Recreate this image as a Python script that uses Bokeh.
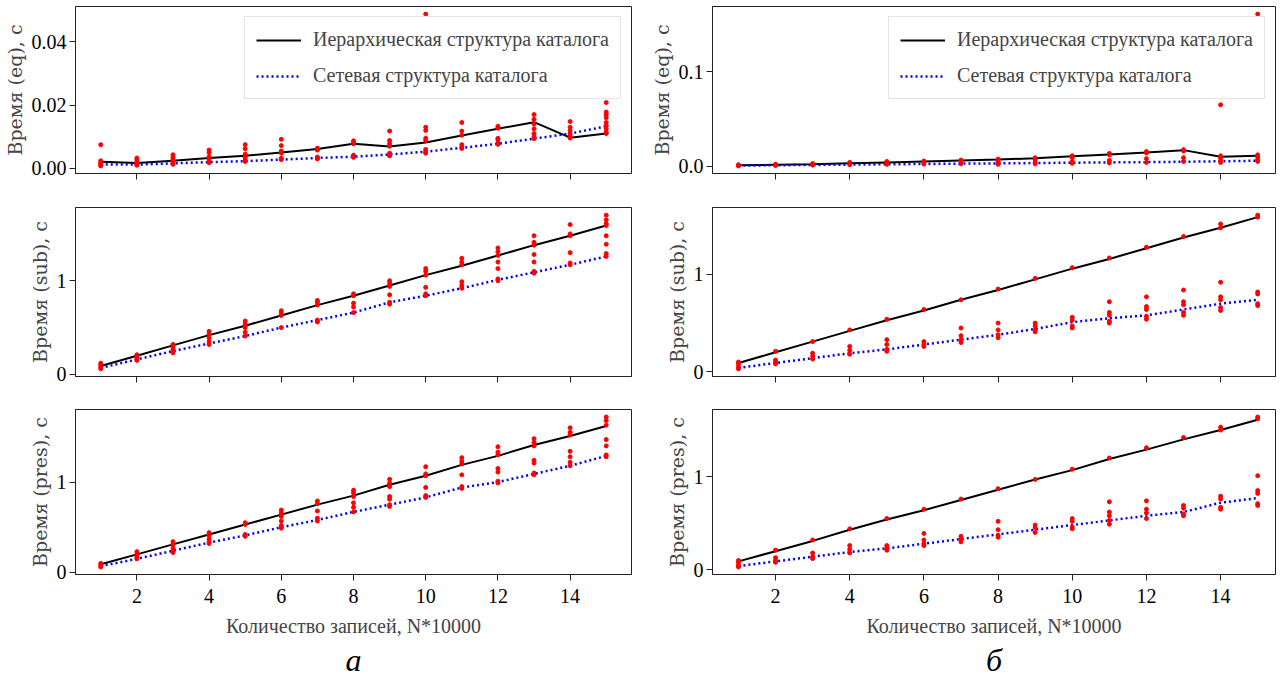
from bokeh.plotting import figure
from bokeh.layouts import column, row
from bokeh.models import (Range1d, Legend, LegendItem, Title, FixedTicker,
                          PrintfTickFormatter, CustomJSTickFormatter)
from bokeh.embed import file_html
from bokeh.resources import INLINE

# ---------------- data ----------------
n_records = list(range(1, 16))  # N*10000
x_ticks = [2, 4, 6, 8, 10, 12, 14]

legend_hier = "Иерархическая структура каталога"
legend_net = "Сетевая структура каталога"
x_label = "Количество записей, N*10000"
panel_a = "а"
panel_b = "б"

# (eq) – panel а
eq_a_hier = [0.0021, 0.0017, 0.0024, 0.0033, 0.0040, 0.0050, 0.0061, 0.0078, 0.0069, 0.0082, 0.0104, 0.0125, 0.0146, 0.0097, 0.0110]
eq_a_net = [0.0013, 0.0012, 0.0016, 0.0020, 0.0023, 0.0028, 0.0033, 0.0037, 0.0044, 0.0053, 0.0065, 0.0078, 0.0094, 0.0110, 0.0133]
eq_a_meas = [
    [0.0075, 0.0024, 0.0019, 0.0015, 0.0011, 0.0008],
    [0.0033, 0.0027, 0.0020, 0.0015, 0.0012, 0.0010],
    [0.0043, 0.0035, 0.0028, 0.0022, 0.0016, 0.0013],
    [0.0058, 0.0050, 0.0037, 0.0030, 0.0022, 0.0018],
    [0.0075, 0.0062, 0.0045, 0.0035, 0.0026, 0.0022],
    [0.0092, 0.0072, 0.0055, 0.0048, 0.0032, 0.0028],
    [0.0064, 0.0060, 0.0058, 0.0036, 0.0032, 0.0030],
    [0.0087, 0.0082, 0.0078, 0.0042, 0.0038, 0.0035],
    [0.0118, 0.0088, 0.0078, 0.0070, 0.0048, 0.0043, 0.0040],
    [0.0487, 0.0130, 0.0120, 0.0095, 0.0088, 0.0060, 0.0053, 0.0048],
    [0.0145, 0.0118, 0.0105, 0.0075, 0.0068, 0.0063],
    [0.0133, 0.0127, 0.0095, 0.0090, 0.0080, 0.0076],
    [0.0170, 0.0155, 0.0140, 0.0125, 0.0110, 0.0100, 0.0094],
    [0.0148, 0.0130, 0.0120, 0.0110, 0.0102, 0.0096],
    [0.0208, 0.0178, 0.0170, 0.0160, 0.0145, 0.0135, 0.0125, 0.0115, 0.0110],
]

# (eq) – panel б
eq_b_hier = [0.0010, 0.0015, 0.0020, 0.0030, 0.0040, 0.0050, 0.0060, 0.0070, 0.0085, 0.0105, 0.0125, 0.0145, 0.0170, 0.0100, 0.0110]
eq_b_net = [0.0006, 0.0010, 0.0013, 0.0017, 0.0020, 0.0023, 0.0027, 0.0030, 0.0033, 0.0037, 0.0040, 0.0043, 0.0047, 0.0052, 0.0058]
eq_b_meas = [
    [0.0015, 0.0008, 0.0003],
    [0.0020, 0.0012, 0.0008],
    [0.0028, 0.0018, 0.0011],
    [0.0040, 0.0030, 0.0016],
    [0.0050, 0.0035, 0.0020],
    [0.0055, 0.0040, 0.0022],
    [0.0065, 0.0050, 0.0025],
    [0.0075, 0.0050, 0.0030, 0.0020],
    [0.0090, 0.0070, 0.0040, 0.0025],
    [0.0110, 0.0090, 0.0050, 0.0030],
    [0.0135, 0.0120, 0.0060, 0.0035],
    [0.0155, 0.0140, 0.0080, 0.0040],
    [0.0175, 0.0160, 0.0090, 0.0050],
    [0.0650, 0.0110, 0.0090, 0.0060, 0.0040],
    [0.1610, 0.0120, 0.0100, 0.0070, 0.0050],
]

# (sub) – panel а
sub_a_hier = [0.09, 0.20, 0.31, 0.42, 0.52, 0.63, 0.74, 0.84, 0.95, 1.06, 1.16, 1.27, 1.38, 1.48, 1.59]
sub_a_net = [0.07, 0.16, 0.25, 0.33, 0.41, 0.50, 0.58, 0.66, 0.77, 0.84, 0.92, 1.01, 1.09, 1.17, 1.26]
sub_a_meas = [
    [0.12, 0.10, 0.08, 0.06],
    [0.21, 0.19, 0.17, 0.15],
    [0.32, 0.29, 0.26, 0.23],
    [0.46, 0.43, 0.39, 0.35, 0.32],
    [0.57, 0.54, 0.50, 0.45, 0.41],
    [0.68, 0.65, 0.63, 0.50],
    [0.79, 0.77, 0.74, 0.58, 0.56],
    [0.86, 0.84, 0.76, 0.72, 0.66],
    [1.00, 0.97, 0.94, 0.85, 0.77, 0.75],
    [1.13, 1.10, 1.06, 0.93, 0.86, 0.84],
    [1.24, 1.20, 1.17, 0.99, 0.95, 0.92],
    [1.35, 1.31, 1.27, 1.20, 1.13, 1.02, 1.00],
    [1.48, 1.41, 1.38, 1.28, 1.20, 1.10, 1.08],
    [1.60, 1.50, 1.48, 1.30, 1.19, 1.17],
    [1.70, 1.65, 1.61, 1.59, 1.48, 1.39, 1.29, 1.26],
]

# (sub) – panel б
sub_b_hier = [0.09, 0.20, 0.31, 0.42, 0.53, 0.63, 0.74, 0.84, 0.95, 1.06, 1.16, 1.27, 1.38, 1.48, 1.59]
sub_b_net = [0.04, 0.09, 0.14, 0.19, 0.23, 0.28, 0.33, 0.38, 0.44, 0.51, 0.55, 0.58, 0.64, 0.70, 0.74]
sub_b_meas = [
    [0.10, 0.08, 0.05, 0.03],
    [0.21, 0.12, 0.10, 0.08],
    [0.31, 0.19, 0.16, 0.13],
    [0.43, 0.26, 0.22, 0.18],
    [0.54, 0.33, 0.28, 0.23, 0.21],
    [0.64, 0.31, 0.28, 0.26],
    [0.74, 0.45, 0.37, 0.33, 0.30],
    [0.85, 0.50, 0.43, 0.38, 0.35],
    [0.96, 0.50, 0.47, 0.43, 0.41],
    [1.07, 0.56, 0.53, 0.47, 0.45],
    [1.17, 0.72, 0.61, 0.58, 0.52, 0.50],
    [1.28, 0.77, 0.67, 0.64, 0.57, 0.54],
    [1.39, 0.84, 0.72, 0.69, 0.61, 0.58],
    [1.52, 1.48, 0.92, 0.77, 0.74, 0.66, 0.63],
    [1.61, 1.59, 0.82, 0.80, 0.70, 0.68],
]

# (pres) – panel а
pres_a_hier = [0.09, 0.20, 0.31, 0.42, 0.53, 0.64, 0.75, 0.85, 0.97, 1.07, 1.19, 1.29, 1.41, 1.51, 1.62]
pres_a_net = [0.07, 0.15, 0.24, 0.33, 0.41, 0.50, 0.58, 0.67, 0.75, 0.83, 0.94, 1.00, 1.09, 1.18, 1.29]
pres_a_meas = [
    [0.10, 0.08, 0.06],
    [0.23, 0.20, 0.17, 0.15],
    [0.34, 0.31, 0.27, 0.24, 0.22],
    [0.44, 0.41, 0.37, 0.34, 0.32],
    [0.55, 0.53, 0.42, 0.40],
    [0.69, 0.66, 0.62, 0.57, 0.52, 0.49],
    [0.79, 0.76, 0.68, 0.60, 0.57],
    [0.91, 0.88, 0.84, 0.77, 0.72, 0.67],
    [1.03, 0.99, 0.95, 0.84, 0.81, 0.75, 0.73],
    [1.17, 1.09, 1.07, 0.94, 0.85, 0.83],
    [1.27, 1.23, 1.20, 1.08, 0.95, 0.93],
    [1.39, 1.33, 1.30, 1.15, 1.11, 1.01, 0.99],
    [1.48, 1.44, 1.40, 1.24, 1.21, 1.10, 1.08],
    [1.60, 1.55, 1.52, 1.34, 1.28, 1.22, 1.18],
    [1.72, 1.68, 1.63, 1.47, 1.40, 1.30, 1.28],
]

# (pres) – panel б
pres_b_hier = [0.09, 0.20, 0.31, 0.43, 0.54, 0.64, 0.75, 0.86, 0.97, 1.07, 1.19, 1.29, 1.40, 1.50, 1.61]
pres_b_net = [0.04, 0.09, 0.14, 0.19, 0.23, 0.28, 0.33, 0.38, 0.43, 0.48, 0.53, 0.58, 0.62, 0.72, 0.77]
pres_b_meas = [
    [0.10, 0.08, 0.05, 0.03],
    [0.21, 0.13, 0.10, 0.08],
    [0.32, 0.18, 0.14, 0.12],
    [0.44, 0.26, 0.22, 0.18],
    [0.55, 0.26, 0.23, 0.21],
    [0.65, 0.39, 0.32, 0.28, 0.26],
    [0.76, 0.36, 0.33, 0.30],
    [0.87, 0.52, 0.43, 0.37, 0.35],
    [0.97, 0.48, 0.45, 0.40],
    [1.08, 0.55, 0.52, 0.46, 0.44],
    [1.20, 0.73, 0.62, 0.58, 0.53, 0.49],
    [1.31, 0.74, 0.65, 0.61, 0.55],
    [1.42, 0.69, 0.66, 0.60, 0.58],
    [1.53, 1.50, 0.79, 0.76, 0.67, 0.65],
    [1.64, 1.62, 1.01, 0.85, 0.82, 0.71, 0.69],
]

# ---------------- styling ----------------
TICK_FONT = "Liberation Serif"
YLAB_FONT = "DejaVu Serif"


def padded_range(*series):
    vals = []
    for s in series:
        for v in s:
            if isinstance(v, list):
                vals.extend(v)
            else:
                vals.append(v)
    lo, hi = min(vals), max(vals)
    pad = (hi - lo) * 0.05
    return Range1d(lo - pad, hi + pad)


def panel(hier, net, meas, ylabel, yticks, yfmt, col, rowi):
    if col == 0:
        width, mbl, mbr = 637, 69, 6
        xr = Range1d(0.3, 15.7)
    else:
        width, mbl, mbr = 639, 75, 1
        xr = Range1d(0.3, 15.48)
    if rowi == 0:
        height, mbt, mbb = 190, 6, 17
    elif rowi == 1:
        height, mbt, mbb = 202, 17, 16
    else:
        height, mbt, mbb = 285, 17, 99

    p = figure(width=width, height=height, x_range=xr,
               y_range=padded_range(hier, net, meas),
               output_backend="svg", toolbar_location=None,
               min_border_left=mbl, min_border_right=mbr,
               min_border_top=mbt, min_border_bottom=mbb)
    p.grid.visible = False
    p.outline_line_color = "#222222"
    p.outline_line_width = 1
    p.background_fill_color = "white"
    p.border_fill_color = "white"

    for ax in (p.xaxis[0], p.yaxis[0]):
        ax.axis_line_color = "#222222"
        ax.major_tick_line_color = "#222222"
        ax.major_tick_out = 6
        ax.major_tick_in = 0
        ax.minor_tick_line_color = None
        ax.major_label_text_font = TICK_FONT
        ax.major_label_text_font_size = "20px"
        ax.major_label_text_color = "black"

    p.xaxis.ticker = FixedTicker(ticks=x_ticks)
    p.xaxis.major_label_standoff = 8
    if rowi < 2:
        p.xaxis.formatter = CustomJSTickFormatter(code="return ''")
        p.xaxis.major_label_standoff = 0
    else:
        p.xaxis.axis_label = x_label
        p.xaxis.axis_label_text_font = TICK_FONT
        p.xaxis.axis_label_text_font_size = "20px"
        p.xaxis.axis_label_text_font_style = "normal"
        p.xaxis.axis_label_standoff = 9

    p.yaxis.ticker = FixedTicker(ticks=yticks)
    p.yaxis.formatter = PrintfTickFormatter(format=yfmt)
    p.yaxis.major_label_standoff = 3
    p.yaxis.axis_label = ylabel
    p.yaxis.axis_label_text_font = YLAB_FONT
    p.yaxis.axis_label_text_font_size = "19px"
    p.yaxis.axis_label_text_font_style = "normal"
    p.yaxis.axis_label_standoff = 3

    r_h = p.line(n_records, hier, line_color="black", line_width=2)
    r_n = p.line(n_records, net, line_color="#0000ff", line_width=2.5, line_dash="2 3")

    xs, ys = [], []
    for xv, vals in zip(n_records, meas):
        for v in vals:
            xs.append(xv)
            ys.append(v)
    p.scatter(xs, ys, size=4, fill_color="#ff0000", line_color="#ff0000")

    if rowi == 0:
        leg = Legend(items=[LegendItem(label=legend_hier, renderers=[r_h]),
                            LegendItem(label=legend_net, renderers=[r_n])],
                     location="top_right")
        leg.label_text_font = TICK_FONT
        leg.label_text_font_size = "20px"
        leg.glyph_width = 45
        leg.glyph_height = 22
        leg.label_standoff = 12
        leg.padding = 11
        leg.spacing = 13
        leg.margin = 10
        leg.border_line_color = "#cccccc"
        leg.border_line_width = 1
        leg.background_fill_alpha = 0.85
        p.add_layout(leg)

    if rowi == 2:
        t = Title(text=panel_a if col == 0 else panel_b, align="center")
        t.text_font = TICK_FONT
        t.text_font_style = "italic"
        t.text_font_size = "32px"
        t.text_color = "black"
        t.standoff = 0
        t.offset = 0
        p.add_layout(t, "below")
    return p


pa1 = panel(eq_a_hier, eq_a_net, eq_a_meas, "Время (eq), с", [0, 0.02, 0.04], "%.2f", 0, 0)
pa2 = panel(sub_a_hier, sub_a_net, sub_a_meas, "Время (sub), с", [0, 1], "%d", 0, 1)
pa3 = panel(pres_a_hier, pres_a_net, pres_a_meas, "Время (pres), с", [0, 1], "%d", 0, 2)
pb1 = panel(eq_b_hier, eq_b_net, eq_b_meas, "Время (eq), с", [0, 0.1], "%.1f", 1, 0)
pb2 = panel(sub_b_hier, sub_b_net, sub_b_meas, "Время (sub), с", [0, 1], "%d", 1, 1)
pb3 = panel(pres_b_hier, pres_b_net, pres_b_meas, "Время (pres), с", [0, 1], "%d", 1, 2)

layout = row(column(pa1, pa2, pa3), column(pb1, pb2, pb3))
open("out.html", "w").write(file_html(layout, INLINE))
